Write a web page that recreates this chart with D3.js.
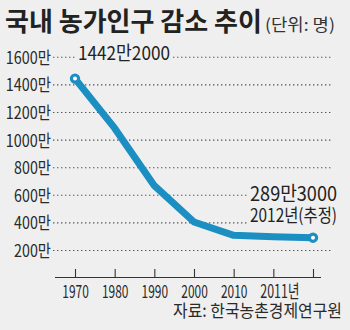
<!DOCTYPE html>
<html>
<head>
<meta charset="utf-8">
<script src="https://cdn.jsdelivr.net/npm/d3@7"></script>
<style>
  html, body { margin: 0; padding: 0; background: #efefef; }
  svg { display: block; }
</style>
</head>
<body>
<script>
// ---- data ----
const years = ["1970", "1980", "1990", "2000", "2010", "2011", "2012"];
const yearLabels = ["1970", "1980", "1990", "2000", "2010", "2011년", ""];
const population = [1442.2, 1082.7, 666.1, 403.1, 306.3, 296.2, 289.3]; // 만 명
const yTicks = [200, 400, 600, 800, 1000, 1200, 1400, 1600];
const title = "국내 농가인구 감소 추이";
const unit = "(단위: 명)";
const firstLabel = "1442만2000";
const lastLabel = "289만3000";
const lastNote = "2012년(추정)";
const source = "자료: 한국농촌경제연구원";

const W = 350, H = 330;
const blue = "#1b8fc2";
const FONT = "'Noto Sans CJK KR', 'Noto Sans', sans-serif";

const svg = d3.select("body").append("svg").attr("width", W).attr("height", H)
  .attr("font-family", FONT);
svg.append("rect").attr("width", W).attr("height", H).attr("fill", "#efefef");

const x = d3.scalePoint().domain(years).range([75, 313]);
const y = d3.scaleLinear().domain([200, 1600]).range([250, 56.8]);

// horizontally condense a text to a target width, using a transform
function cond(sel, width) {
  sel.each(function() {
    const t = d3.select(this);
    const w = this.getComputedTextLength();
    const tw = typeof width === "function" ? width(t.datum()) : width;
    if (!w || !tw) return;
    const k = tw / w;
    const tx = +t.attr("x") || 0, ty = +t.attr("y") || 0;
    t.attr("x", 0).attr("y", 0)
      .attr("transform", `translate(${tx},${ty}) scale(${k},1)`);
  });
  return sel;
}

// title
cond(svg.append("text").attr("x", 5).attr("y", 31)
  .attr("font-size", 26).attr("font-weight", 700).attr("fill", "#222")
  .text(title), 257);
cond(svg.append("text").attr("x", 265).attr("y", 31)
  .attr("font-size", 16.5).attr("fill", "#333")
  .text(unit), 70);

// y axis gridlines + labels
const yAxis = d3.axisLeft(y).tickValues(yTicks).tickSize(0).tickPadding(0)
  .tickFormat(d => d + "만");
const gy = svg.append("g").attr("transform", "translate(51,0)").call(yAxis)
  .attr("font-family", FONT);
gy.select(".domain").remove();
gy.selectAll(".tick text")
  .attr("font-size", 17).attr("fill", "#2a2a2a")
  .attr("dy", null).attr("y", 6.5);
cond(gy.selectAll(".tick text"), d => String(d).length * 8.3 + 12);
gy.selectAll(".tick").append("line")
  .attr("x1", 2).attr("x2", 282)
  .attr("stroke", "#555").attr("stroke-width", 1.1)
  .attr("stroke-dasharray", "1.4,2.6");

// label backgrounds (hide gridlines under text)
svg.append("rect").attr("x", 76).attr("y", 46).attr("width", 96).attr("height", 16).attr("fill", "#efefef");
svg.append("rect").attr("x", 248).attr("y", 184).attr("width", 95).attr("height", 42).attr("fill", "#efefef");

// x axis
const xAxis = d3.axisBottom(x).tickSizeInner(-8).tickSizeOuter(0).tickPadding(0)
  .tickFormat((d, i) => yearLabels[i]);
const gx = svg.append("g").attr("transform", "translate(0,277)").call(xAxis)
  .attr("font-family", FONT);
gx.select(".domain").attr("d", "M55,0.5H321").attr("stroke", "#333").attr("stroke-width", 1.1);
gx.selectAll(".tick line").attr("stroke", "#333").attr("stroke-width", 1.1);
gx.selectAll(".tick text")
  .attr("font-size", 18).attr("fill", "#2a2a2a")
  .attr("y", 21).attr("dy", null)
  .attr("text-anchor", (d, i) => yearLabels[i].length > 4 ? "start" : "middle")
  .attr("x", (d, i) => yearLabels[i].length > 4 ? -13.5 : 0);
cond(gx.selectAll(".tick text"), d => {
  const lab = yearLabels[years.indexOf(d)];
  return lab.length > 4 ? 39 : (lab ? 26.5 : 0);
});

// line
const line = d3.line().x((d, i) => x(years[i])).y(d => y(d));
svg.append("path").datum(population)
  .attr("d", line)
  .attr("fill", "none").attr("stroke", blue)
  .attr("stroke-width", 7).attr("stroke-linejoin", "round").attr("stroke-linecap", "round");

// end circles
const ends = [0, population.length - 1];
svg.selectAll("circle.end").data(ends).enter().append("circle")
  .attr("cx", i => x(years[i])).attr("cy", i => y(population[i]))
  .attr("r", 3.6).attr("fill", "#fff").attr("stroke", blue).attr("stroke-width", 3.2);

// value labels
cond(svg.append("text").attr("x", 78).attr("y", 60)
  .attr("font-size", 19).attr("fill", "#222").text(firstLabel), 92);
cond(svg.append("text").attr("x", 337).attr("y", 201).attr("text-anchor", "end")
  .attr("font-size", 20).attr("fill", "#222").text(lastLabel), 87);
cond(svg.append("text").attr("x", 337).attr("y", 222).attr("text-anchor", "end")
  .attr("font-size", 18).attr("fill", "#222").text(lastNote), 87);

// source
cond(svg.append("text").attr("x", 342).attr("y", 317).attr("text-anchor", "end")
  .attr("font-size", 17.5).attr("fill", "#2a2a2a").text(source), 169);
</script>
</body>
</html>
